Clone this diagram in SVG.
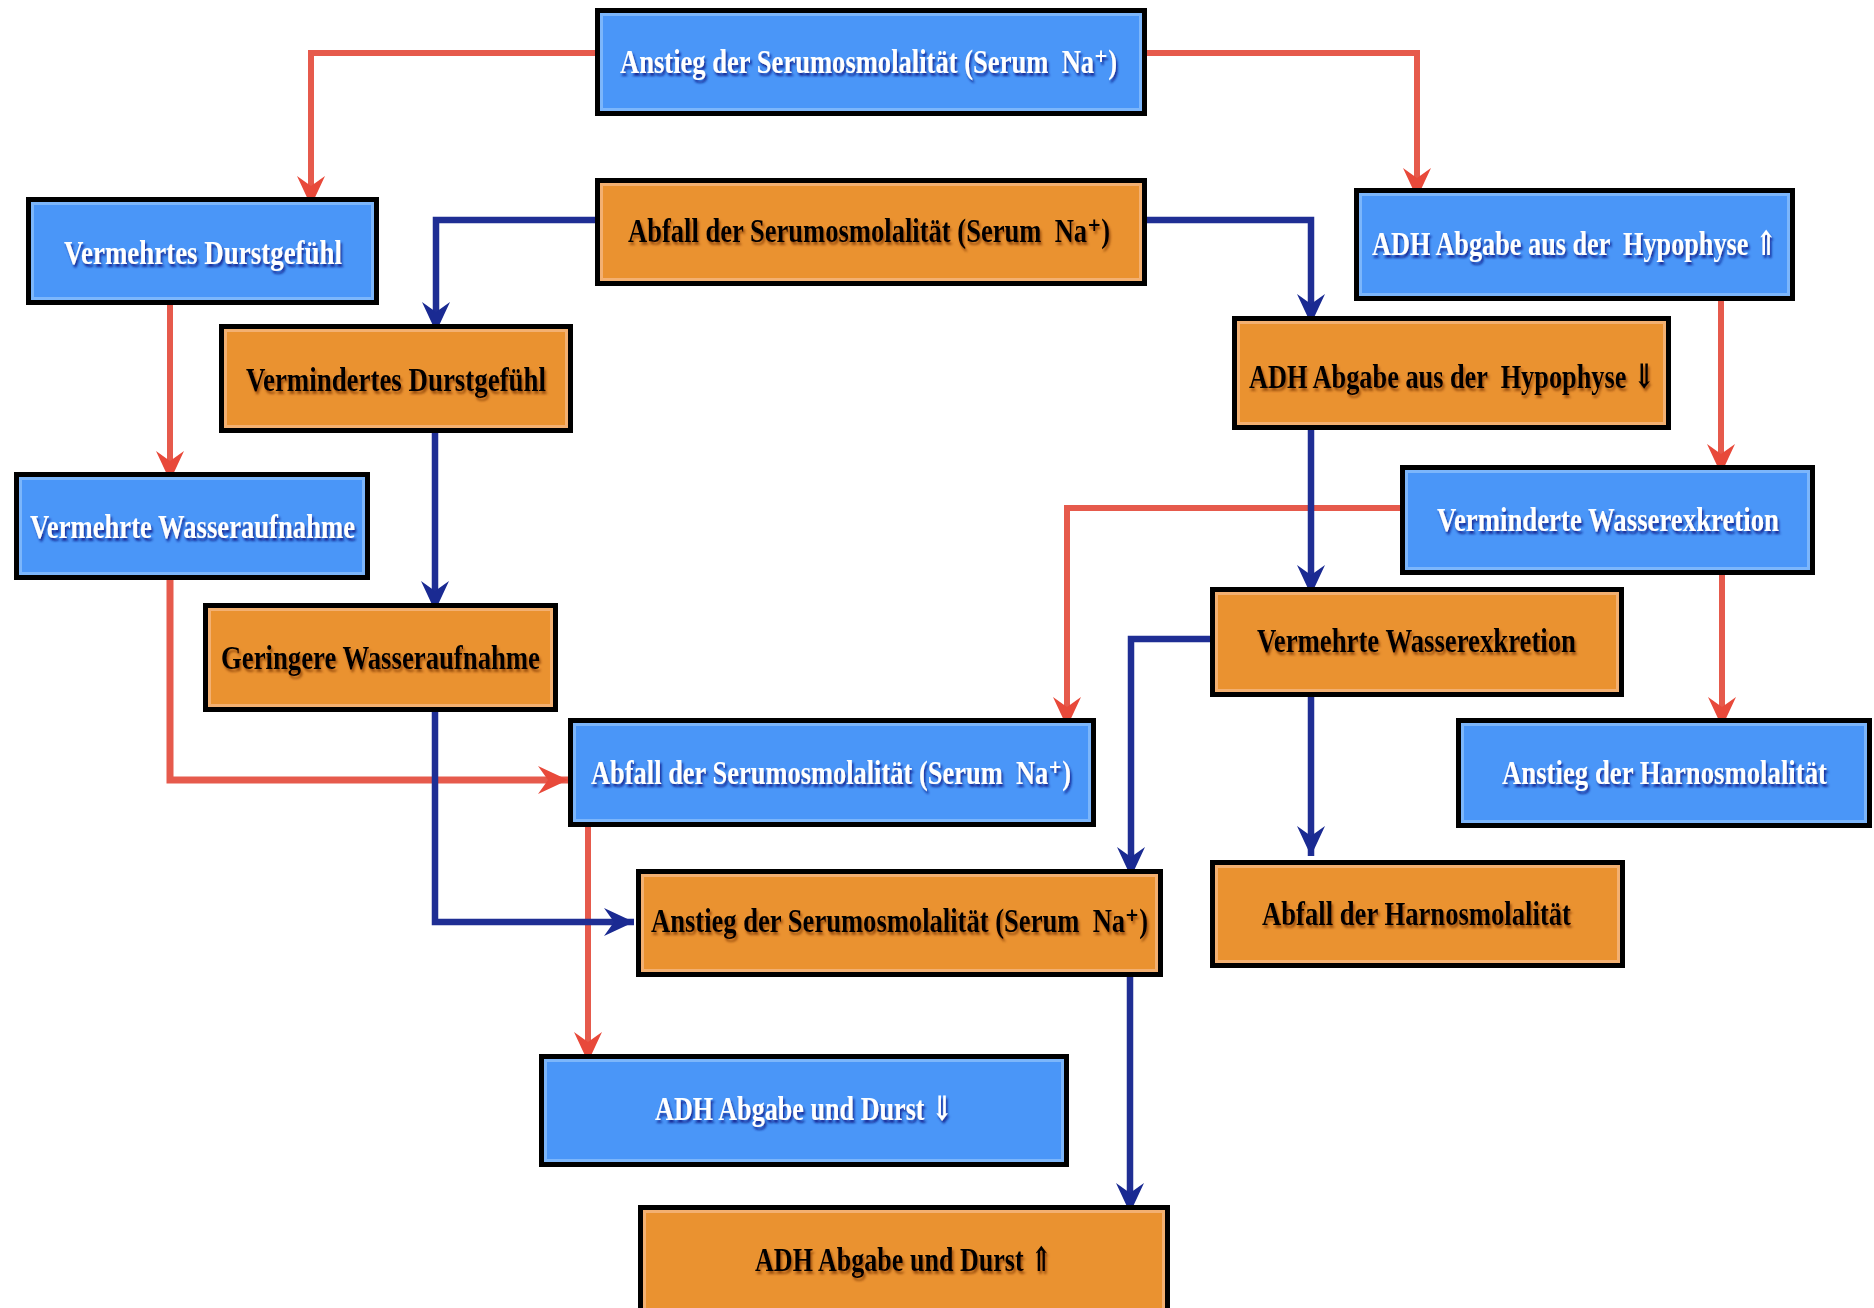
<svg xmlns="http://www.w3.org/2000/svg" width="1874" height="1308" viewBox="0 0 1874 1308">
<style>
.frame{stroke:#000;stroke-width:5}
.blue .frame{fill:#4a96f8}
.orange .frame{fill:#ea9230}
.inner{fill:none;stroke-width:3}
.blue .inner{stroke:#7cb6fb}
.orange .inner{stroke:#f3b071}
text{font-family:"Liberation Serif","DejaVu Serif",serif;font-weight:bold;font-size:34px;white-space:pre}
.blue text{fill:#fff;filter:url(#shB)}
.orange text{fill:#000;filter:url(#shO)}
.red{fill:none;stroke:#e65a4c;stroke-width:6;marker-end:url(#ahR)}
.navy{fill:none;stroke:#1f2e94;stroke-width:6.5;marker-end:url(#ahN)}
</style>
<defs>
<filter id="shB" x="-5%" y="-30%" width="110%" height="160%"><feDropShadow dx="2" dy="3" stdDeviation="1.2" flood-color="#0a1f8c" flood-opacity="0.9"/></filter>
<filter id="shO" x="-5%" y="-30%" width="110%" height="160%"><feDropShadow dx="2" dy="3" stdDeviation="1.2" flood-color="#7a3000" flood-opacity="0.7"/></filter>
<marker id="ahR" markerUnits="userSpaceOnUse" markerWidth="32" markerHeight="30" viewBox="0 0 32 30" refX="30" refY="15" orient="auto"><path d="M0,1 L30,15 L0,29 L10,15 Z" fill="#e8493a"/></marker>
<marker id="ahN" markerUnits="userSpaceOnUse" markerWidth="32" markerHeight="30" viewBox="0 0 32 30" refX="30" refY="15" orient="auto"><path d="M0,1 L30,15 L0,29 L10,15 Z" fill="#1a2a92"/></marker>
</defs>
<rect width="1874" height="1308" fill="#fff"/>
<g id="connectors">
<path class="red" d="M595,53 H311 V206"/>
<path class="red" d="M1147,53 H1417 V198"/>
<path class="red" d="M1721,301 V474"/>
<path class="red" d="M1400,508 H1067 V727"/>
<path class="red" d="M1722,575 V727"/>
<path class="red" d="M170,305 V481"/>
<path class="red" d="M170,580 V780 H568" style="stroke-width:7"/>
<path class="red" d="M588,827 V1062"/>
<path class="navy" d="M595,220 H436 V332"/>
<path class="navy" d="M1147,220 H1311 V324"/>
<path class="navy" d="M1311,430 V595"/>
<path class="navy" d="M435,433 V611"/>
<path class="navy" d="M435,712 V922 H634"/>
<path class="navy" d="M1210,639 H1131 V877"/>
<path class="navy" d="M1311,697 V856"/>
<path class="navy" d="M1130,977 V1213"/>
</g>
<g id="n1" class="blue"><rect class="frame" x="597.5" y="10.5" width="547" height="103"/><rect class="inner" x="601.5" y="14.5" width="539" height="95"/><text transform="translate(620,73) scale(0.8,1)" textLength="621.25" lengthAdjust="spacingAndGlyphs">Anstieg der Serumosmolalität (Serum  Na⁺)</text></g>
<g id="n2" class="orange"><rect class="frame" x="597.5" y="180.5" width="547" height="103"/><rect class="inner" x="601.5" y="184.5" width="539" height="95"/><text transform="translate(628,242) scale(0.8,1)" textLength="602.5" lengthAdjust="spacingAndGlyphs">Abfall der Serumosmolalität (Serum  Na⁺)</text></g>
<g id="n3" class="blue"><rect class="frame" x="28.5" y="199.5" width="348" height="103"/><rect class="inner" x="32.5" y="203.5" width="340" height="95"/><text transform="translate(64,264) scale(0.8,1)" textLength="347.5" lengthAdjust="spacingAndGlyphs">Vermehrtes Durstgefühl</text></g>
<g id="n4" class="orange"><rect class="frame" x="221.5" y="326.5" width="349" height="104"/><rect class="inner" x="225.5" y="330.5" width="341" height="96"/><text transform="translate(246,391) scale(0.8,1)" textLength="375" lengthAdjust="spacingAndGlyphs">Vermindertes Durstgefühl</text></g>
<g id="n5" class="blue"><rect class="frame" x="1356.5" y="190.5" width="436" height="108"/><rect class="inner" x="1360.5" y="194.5" width="428" height="100"/><text transform="translate(1372,255) scale(0.8,1)" textLength="506.25" lengthAdjust="spacingAndGlyphs">ADH Abgabe aus der  Hypophyse ⇑</text></g>
<g id="n6" class="orange"><rect class="frame" x="1234.5" y="318.5" width="434" height="109"/><rect class="inner" x="1238.5" y="322.5" width="426" height="101"/><text transform="translate(1249,388) scale(0.8,1)" textLength="507.5" lengthAdjust="spacingAndGlyphs">ADH Abgabe aus der  Hypophyse ⇓</text></g>
<g id="n7" class="blue"><rect class="frame" x="16.5" y="474.5" width="351" height="103"/><rect class="inner" x="20.5" y="478.5" width="343" height="95"/><text transform="translate(30,538) scale(0.8,1)" textLength="406.25" lengthAdjust="spacingAndGlyphs">Vermehrte Wasseraufnahme</text></g>
<g id="n8" class="orange"><rect class="frame" x="205.5" y="605.5" width="350" height="104"/><rect class="inner" x="209.5" y="609.5" width="342" height="96"/><text transform="translate(221,669) scale(0.8,1)" textLength="398.75" lengthAdjust="spacingAndGlyphs">Geringere Wasseraufnahme</text></g>
<g id="n9" class="blue"><rect class="frame" x="570.5" y="720.5" width="523" height="104"/><rect class="inner" x="574.5" y="724.5" width="515" height="96"/><text transform="translate(591,784) scale(0.8,1)" textLength="600" lengthAdjust="spacingAndGlyphs">Abfall der Serumosmolalität (Serum  Na⁺)</text></g>
<g id="n10" class="blue"><rect class="frame" x="1402.5" y="467.5" width="410" height="105"/><rect class="inner" x="1406.5" y="471.5" width="402" height="97"/><text transform="translate(1437,531) scale(0.8,1)" textLength="427.5" lengthAdjust="spacingAndGlyphs">Verminderte Wasserexkretion</text></g>
<g id="n11" class="orange"><rect class="frame" x="1212.5" y="589.5" width="409" height="105"/><rect class="inner" x="1216.5" y="593.5" width="401" height="97"/><text transform="translate(1257,652) scale(0.8,1)" textLength="398.75" lengthAdjust="spacingAndGlyphs">Vermehrte Wasserexkretion</text></g>
<g id="n12" class="blue"><rect class="frame" x="1458.5" y="720.5" width="411" height="105"/><rect class="inner" x="1462.5" y="724.5" width="403" height="97"/><text transform="translate(1502,784) scale(0.8,1)" textLength="406.25" lengthAdjust="spacingAndGlyphs">Anstieg der Harnosmolalität</text></g>
<g id="n13" class="orange"><rect class="frame" x="638.5" y="871.5" width="522" height="103"/><rect class="inner" x="642.5" y="875.5" width="514" height="95"/><text transform="translate(651,932) scale(0.8,1)" textLength="621.25" lengthAdjust="spacingAndGlyphs">Anstieg der Serumosmolalität (Serum  Na⁺)</text></g>
<g id="n14" class="orange"><rect class="frame" x="1212.5" y="862.5" width="410" height="103"/><rect class="inner" x="1216.5" y="866.5" width="402" height="95"/><text transform="translate(1262,925) scale(0.8,1)" textLength="386.25" lengthAdjust="spacingAndGlyphs">Abfall der Harnosmolalität</text></g>
<g id="n15" class="blue"><rect class="frame" x="541.5" y="1056.5" width="525" height="108"/><rect class="inner" x="545.5" y="1060.5" width="517" height="100"/><text transform="translate(655,1120) scale(0.8,1)" textLength="372.5" lengthAdjust="spacingAndGlyphs">ADH Abgabe und Durst ⇓</text></g>
<g id="n16" class="orange"><rect class="frame" x="640.5" y="1207.5" width="527" height="106"/><rect class="inner" x="644.5" y="1211.5" width="519" height="98"/><text transform="translate(755,1271) scale(0.8,1)" textLength="371.25" lengthAdjust="spacingAndGlyphs">ADH Abgabe und Durst ⇑</text></g>
</svg>
